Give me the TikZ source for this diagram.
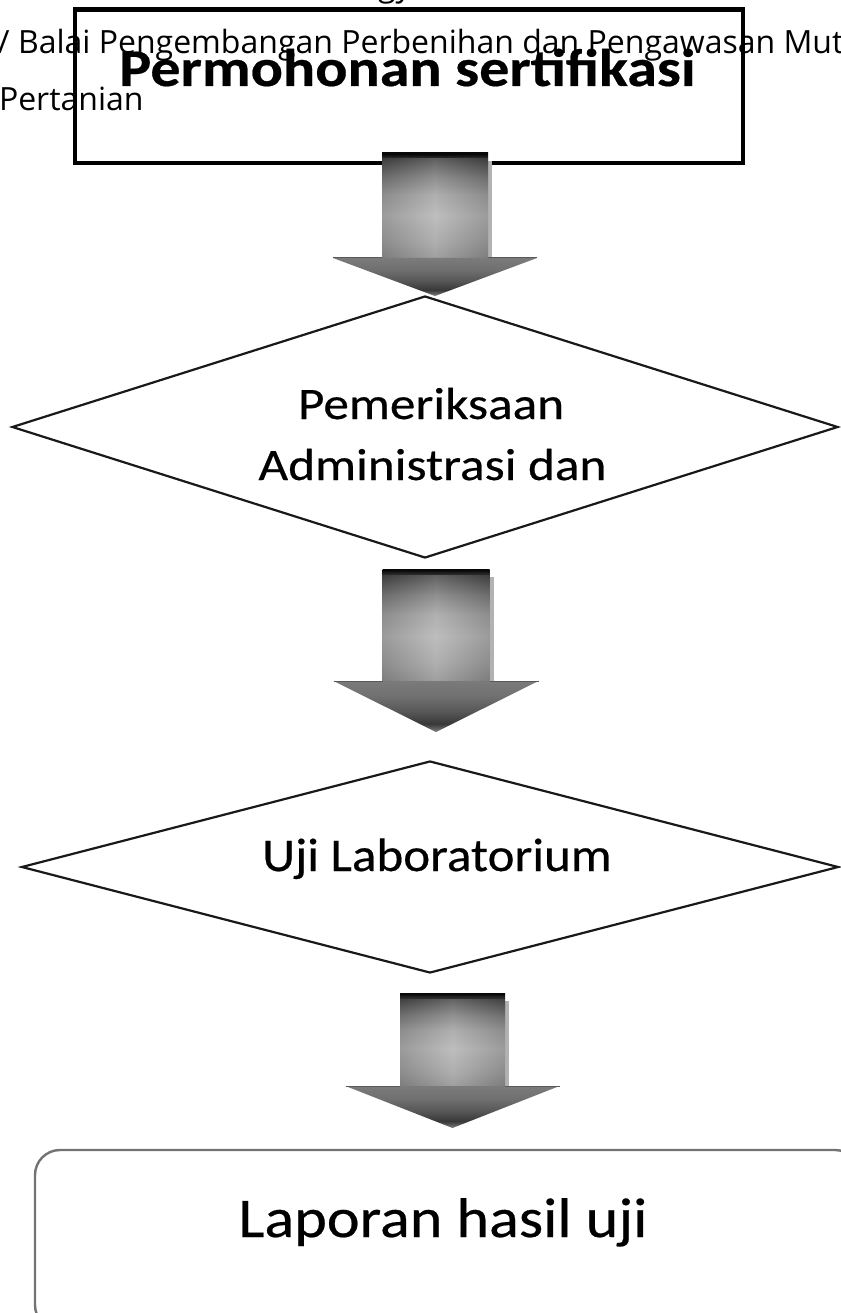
\documentclass[tikz,border=0pt]{standalone}
\usepackage{fontspec}
\usetikzlibrary{shapes.geometric}
\newfontfamily\calfont[FakeBold=0.4]{Carlito}
\newfontfamily\osfont{Open Sans}
\pgfdeclareverticalshading{bodysh}{100bp}{color(0bp)=(black!47); color(25bp)=(black!47); color(33bp)=(black!38); color(45bp)=(black!30); color(55bp)=(black!38); color(63bp)=(black!55); color(69bp)=(black!72); color(73bp)=(black!85); color(74.5bp)=(black!97); color(75bp)=(black!97); color(100bp)=(black!97)}
\pgfdeclareverticalshading{headsh}{100bp}{color(0bp)=(black!50); color(25bp)=(black!50); color(33bp)=(black!78); color(45bp)=(black!66); color(60bp)=(black!56); color(75bp)=(black!52); color(100bp)=(black!52)}
% name, cx, top, body half width, head y, head half width, tip y
\newcommand\blockarr[7]{%
  \fill[black!30] (#2+#4,#3+8) rectangle (#2+#4+4,#5);
  \path[shading=bodysh] (#2-#4,#3) rectangle (#2+#4,#5);
  \path[left color=black!60, right color=black!60, middle color=black!15, opacity=0.3] (#2-#4,#3+6) rectangle (#2+#4,#5);
  \path[shading=headsh] (#2-#6,#5) -- (#2+#6,#5) -- (#2,#7) -- cycle;
  \draw[black!65, line width=1pt] (#2-#6,#5) -- (#2-#4,#5) (#2+#4,#5) -- (#2+#6,#5);
  \coordinate (#1) at (#2,#7);
}
\tikzset{
  txt/.style={anchor=base, inner sep=0pt, outer sep=0pt},
  topline/.style={anchor=base west, inner sep=0pt, outer sep=0pt, font=\osfont\fontsize{32}{57}\selectfont},
  decision/.style={diamond, draw=black!90, line width=2.2pt, inner sep=0pt},
}
\begin{document}
\begin{tikzpicture}[x=1pt, y=-1pt]
\useasboundingbox (0,0) rectangle (840,1313);
\fill[white] (0,0) rectangle (840,1313);

% top text (cropped paragraph)
\node[anchor=base east, inner sep=0pt, font=\osfont\fontsize{32}{57}\selectfont] (t0) at (412,-3) {ogy};
\node[topline] (t1) at (-2,54) {/ Balai Pengembangan Perbenihan dan Pengawasan Mut};
\node[topline] (t2) at (-1,111) {Pertanian};

% box 1
\node[draw=black, line width=4.5pt, minimum width=668pt, minimum height=153.5pt, inner sep=0pt] (b1) at (409,86.25) {};
\node[txt, font=\calfont\bfseries\fontsize{53}{60}\selectfont] (l1) at (407.5,86) {\scalebox{1.133}[1]{Permohonan sertifikasi}};

% decision 1
\node[decision, minimum width=826pt, minimum height=262pt] (d1) at (425,427) {};
\node[txt, font=\calfont\fontsize{45}{61}\selectfont] (l2a) at (431,419) {\scalebox{1.14}[1]{Pemeriksaan}};
\node[txt, font=\calfont\fontsize{45}{61}\selectfont] (l2b) at (432.5,480) {\scalebox{1.14}[1]{Administrasi dan}};

% decision 2
\node[decision, minimum width=817pt, minimum height=212pt] (d2) at (430,867) {};
\node[txt, font=\calfont\fontsize{47}{61}\selectfont] (l3) at (437,871) {\scalebox{1.087}[1]{Uji Laboratorium}};

% box 4
\node[draw=black!55, line width=2.4pt, rounded corners=25pt, minimum width=825pt, minimum height=180pt, inner sep=0pt] (b4) at (447.5,1240) {};
\node[txt, font=\calfont\fontsize{56}{61}\selectfont] (l4) at (443,1237) {\scalebox{1.11}[1]{Laporan hasil uji}};

% block arrows
\blockarr{a1}{435}{153}{53}{258}{102}{296}
\blockarr{a2}{436}{569}{53.5}{681}{102.5}{732}
\blockarr{a3}{452.5}{993}{52.5}{1086}{107}{1128}
\end{tikzpicture}
\end{document}
